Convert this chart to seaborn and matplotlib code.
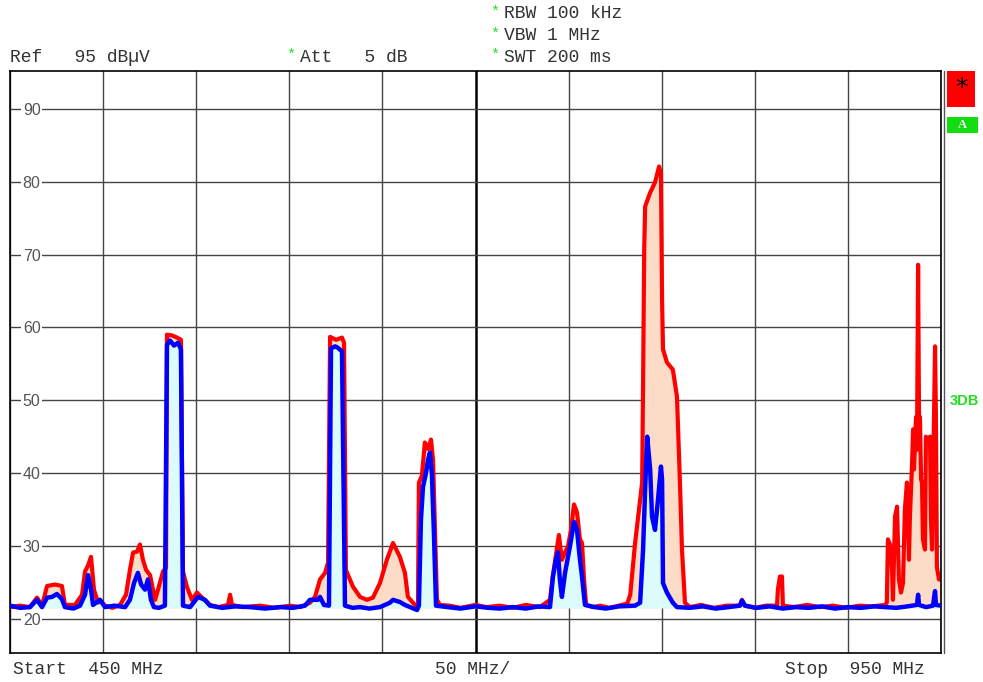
import pandas as pd
import seaborn as sns
import matplotlib.pyplot as plt
from matplotlib.patches import Rectangle
from matplotlib.lines import Line2D

# max hold trace (red), frequency in MHz, level in dBuV
red_freq = [450, 455.4, 460.7, 464.5, 467.2, 469.9, 474.2, 477.9, 479.5, 484.9,
            488.7, 490.3, 491.9, 493.5, 495.1, 497.3, 498.3, 501, 505, 509.1,
            512.3, 514.4, 516.1, 518.2, 519.8, 521.4, 523.1, 525.2, 527.9, 529.5,
            532.2, 533.8, 534.3, 537, 539.7, 541.8, 542.9, 545, 547.7, 550.4,
            553.1, 557.4, 562, 567.1, 568.2, 569.2, 575, 584.3, 592, 600.4,
            606, 611.1, 613.8, 616.5, 619.2, 620.8, 621.9, 625.1, 628.3, 629.4,
            630.4, 634.2, 638, 641.7, 644.9, 648.7, 652.4, 655.7, 659.4, 662.1,
            663.7, 667.5, 669.1, 669.6, 671.2, 672.8, 674.4, 676.1, 677.2, 678.3,
            679.3, 680.9, 686, 692, 700, 706, 713, 720, 727, 734.6,
            740, 741.6, 743.2, 744.8, 746.4, 748.1, 749.7, 751.3, 752.9, 754.5,
            756.1, 757.2, 758.3, 759.4, 763, 767, 772, 777, 781.5, 783.1,
            785.7, 788.4, 789.5, 790, 790.6, 791.1, 793.8, 796.4, 798.6, 799.6,
            800.2, 800.7, 802.8, 806, 808.2, 809.8, 810.9, 812.5, 815.2, 821,
            828, 835, 842, 843.1, 844.7, 850, 856, 861.9, 862.4, 863.5,
            864.6, 865.1, 871, 878, 885, 892, 899, 906.4, 913, 919.9,
            920.9, 921.5, 922.6, 923.7, 924.2, 925.3, 926.4, 927.4, 928.5, 929.6,
            930.6, 931.7, 932.8, 933.3, 934.4, 935, 935.5, 936.6, 937.1, 937.7,
            938.2, 938.7, 939.3, 939.8, 940.3, 941.4, 941.9, 943, 944.1, 944.6,
            945.2, 946.2, 946.8, 947.3, 947.8, 948.9, 950]
red_level = [21.6, 21.8, 21.6, 22.9, 21.8, 24.5, 24.7, 24.5, 21.9, 21.9,
             23.3, 26.5, 27.3, 28.5, 24.0, 22.2, 22.6, 21.8, 21.5, 21.9,
             23.3, 26.7, 29.1, 29.2, 30.2, 28.1, 26.7, 26.0, 22.6, 24.0,
             26.5, 27.0, 59.0, 58.9, 58.6, 58.3, 26.5, 24.4, 22.6, 23.6,
             22.9, 21.9, 21.6, 21.9, 23.3, 21.9, 21.6, 21.8, 21.5, 21.8,
             21.6, 22.2, 23.0, 25.4, 26.3, 27.7, 58.7, 58.3, 58.6, 57.9,
             26.7, 24.4, 23.0, 22.6, 22.9, 24.9, 28.1, 30.4, 28.5, 26.3,
             23.0, 21.9, 21.8, 38.7, 39.6, 44.2, 43.3, 44.6, 41.8, 31.8,
             22.6, 21.9, 21.8, 21.5, 21.9, 21.6, 21.8, 21.5, 21.9, 21.6,
             22.6, 26.0, 28.8, 31.5, 28.1, 29.1, 30.0, 32.2, 35.7, 34.6,
             30.9, 30.4, 25.4, 21.9, 21.6, 21.8, 21.5, 21.8, 22.1, 23.3,
             30.4, 36.3, 38.7, 52.4, 70.7, 76.6, 78.5, 79.9, 82.1, 81.0,
             63.8, 57.0, 55.2, 54.2, 50.5, 38.7, 29.5, 22.2, 21.6, 21.9,
             21.5, 21.8, 21.8, 22.6, 21.8, 21.5, 21.8, 21.8, 24.0, 25.8,
             25.8, 21.8, 21.6, 21.9, 21.6, 21.8, 21.5, 21.8, 21.7, 21.9,
             22.2, 30.9, 30.2, 26.7, 22.6, 34.0, 35.4, 25.4, 23.6, 24.9,
             35.0, 38.7, 28.1, 34.0, 40.9, 46.0, 40.5, 47.7, 43.2, 68.6,
             47.3, 47.7, 39.1, 38.7, 30.9, 29.5, 45.0, 44.6, 45.0, 33.6,
             29.5, 47.3, 57.4, 47.3, 27.1, 25.4, 25.4]

# clear/write trace (blue)
blue_freq = [450, 455.4, 460.7, 464.5, 467.2, 469.9, 472.6, 475.2, 477.9, 479.5,
             484, 487.6, 490.3, 491.9, 493.5, 494.6, 498.3, 501, 506, 511.8,
             514.4, 516.6, 518.7, 520.4, 522.5, 524.1, 525.7, 527.3, 530, 533.2,
             534.3, 535.9, 538.1, 540.2, 541.8, 542.9, 546.7, 551, 554.7, 557.4,
             564, 571, 578.9, 587, 595, 602, 608.4, 611.1, 615.4, 616.5,
             618.6, 621.3, 622.4, 624.6, 626.1, 628.3, 629.9, 634, 638, 643,
             648.7, 654, 655.7, 659.4, 662.1, 668.6, 669.6, 670.7, 671.8, 673.4,
             674.5, 675.5, 676.6, 677.7, 678.8, 685, 692, 700, 707, 713,
             720, 727, 734, 740, 741.6, 743.2, 744.3, 745.3, 746.4, 748.1,
             750.7, 752.9, 754.5, 756.1, 757.2, 758.8, 764, 770, 777, 785.7,
             788.4, 790, 791.1, 792.2, 793.8, 794.8, 796.4, 798, 799.6, 800.2,
             800.7, 802.8, 806, 808.2, 815, 822, 829, 836, 842, 843.1,
             844.7, 851, 858, 865, 872, 879, 886, 893, 900, 907,
             914, 919.9, 926, 932, 937.1, 937.7, 938.2, 942, 945.7, 946.8,
             947.3, 950]
blue_level = [21.8, 21.5, 21.6, 22.6, 21.6, 22.9, 23.0, 23.4, 22.7, 21.6,
              21.4, 21.8, 23.3, 26.0, 24.0, 21.9, 22.6, 21.6, 21.8, 21.6,
              22.6, 24.9, 26.3, 24.7, 24.0, 25.4, 22.6, 21.6, 21.5, 21.8,
              57.6, 58.2, 57.5, 57.9, 57.0, 21.8, 21.6, 23.0, 22.6, 21.8,
              21.5, 21.7, 21.6, 21.4, 21.6, 21.5, 21.8, 22.6, 22.6, 23.0,
              21.9, 21.8, 57.1, 57.4, 57.2, 56.7, 21.8, 21.5, 21.6, 21.4,
              21.6, 22.2, 22.6, 22.3, 21.9, 21.2, 21.8, 33.6, 38.1, 40.0,
              41.8, 42.8, 39.8, 31.5, 21.8, 21.6, 21.4, 21.7, 21.5, 21.4,
              21.6, 21.4, 21.7, 21.6, 25.8, 28.1, 29.1, 25.4, 23.0, 26.3,
              29.9, 33.3, 32.2, 28.1, 25.8, 21.9, 21.6, 21.4, 21.7, 21.8,
              22.2, 29.5, 37.7, 45.0, 40.5, 34.0, 32.2, 36.3, 40.9, 39.1,
              24.9, 23.6, 22.2, 21.6, 21.5, 21.7, 21.4, 21.6, 21.8, 22.5,
              21.8, 21.5, 21.7, 21.4, 21.6, 21.5, 21.7, 21.4, 21.6, 21.5,
              21.7, 21.6, 21.5, 21.7, 21.9, 23.3, 21.9, 21.6, 21.8, 23.8,
              21.9, 21.8]

y_ticks = [20, 30, 40, 50, 60, 70, 80, 90]
x_grid = [450, 500, 550, 600, 650, 700, 750, 800, 850, 900, 950]

red_df = pd.DataFrame({'freq': red_freq, 'level': red_level})
blue_df = pd.DataFrame({'freq': blue_freq, 'level': blue_level})

sns.set_style('white')
plt.rcParams['font.family'] = ['Liberation Mono', 'DejaVu Sans Mono']

fig = plt.figure(figsize=(9.83, 6.82), dpi=100)
ax = fig.add_axes([10 / 983, 1 - 653 / 682, 931 / 983, 582 / 682])

floor = 21.5
ax.fill_between(red_df['freq'], floor, red_df['level'], color='#fcdcc6', lw=0, zorder=1)
ax.fill_between(blue_df['freq'], floor, blue_df['level'], color='#dcfbfb', lw=0, zorder=1.1)
sns.lineplot(data=red_df, x='freq', y='level', color='#ff0000', linewidth=3.0,
             estimator=None, sort=False, ax=ax, zorder=2)
sns.lineplot(data=blue_df, x='freq', y='level', color='#0000ff', linewidth=3.2,
             estimator=None, sort=False, ax=ax, zorder=3)

ax.set_xlim(450, 950)
ax.set_ylim(15.3, 95.2)
ax.set_xticks(x_grid)
ax.set_yticks(y_ticks)
ax.set_xlabel('')
ax.set_ylabel('')
ax.grid(True, color='#444444', linewidth=1)
ax.get_xgridlines()[5].set_color('black')
ax.get_xgridlines()[5].set_linewidth(1.8)
ax.tick_params(axis='x', length=0, labelbottom=False)
ax.tick_params(axis='y', direction='in', length=8, width=1, color='#444444',
               pad=-22, labelsize=11.5, labelcolor='#555555')
for lbl in ax.get_yticklabels():
    lbl.set_fontfamily('Liberation Sans')
    lbl.set_bbox(dict(facecolor='white', edgecolor='none', pad=1))
for sp in ax.spines.values():
    sp.set_color('black')
    sp.set_linewidth(1.2)

# second frame line on the right
fig.add_artist(Line2D([944 / 983, 944 / 983], [1 - 653 / 682, 1 - 71 / 682],
                      color='#555555', lw=1, transform=fig.transFigure))

txt = '#333333'
green = '#22dd22'
fs = 13
fig.text(10 / 983, 1 - 57 / 682, 'Ref   95 dBµV', color=txt, fontsize=fs, va='center')
fig.text(286 / 983, 1 - 55 / 682, '*', color=green, fontsize=11, va='center')
fig.text(300 / 983, 1 - 57 / 682, 'Att   5 dB', color=txt, fontsize=fs, va='center')
for yy, s in [(14, 'RBW 100 kHz'), (36, 'VBW 1 MHz'), (57, 'SWT 200 ms')]:
    fig.text(490 / 983, 1 - (yy - 2) / 682, '*', color=green, fontsize=11, va='center')
    fig.text(504 / 983, 1 - yy / 682, s, color=txt, fontsize=fs, va='center')
fig.text(13 / 983, 1 - 670 / 682, 'Start  450 MHz', color=txt, fontsize=fs, va='center')
fig.text(435 / 983, 1 - 670 / 682, '50 MHz/', color=txt, fontsize=fs, va='center')
fig.text(785 / 983, 1 - 670 / 682, 'Stop  950 MHz', color=txt, fontsize=fs, va='center')

# status boxes on the right
fig.add_artist(Rectangle((947 / 983, 1 - 107 / 682), 28 / 983, 36 / 682,
                         facecolor='#ff0000', edgecolor='none', transform=fig.transFigure))
fig.text(961 / 983, 1 - 88 / 682, '*', color='black', fontsize=18, ha='center', va='center',
         fontfamily='DejaVu Sans')
fig.add_artist(Rectangle((947 / 983, 1 - 133 / 682), 31 / 983, 16 / 682,
                         facecolor='#11dd11', edgecolor='none', transform=fig.transFigure))
fig.text(962 / 983, 1 - 125 / 682, 'A', color='white', fontsize=9, ha='center', va='center',
         fontweight='bold', fontfamily='Liberation Serif')
fig.text(950 / 983, 1 - 401 / 682, '3DB', color=green, fontsize=10.5, va='center',
         fontweight='bold', fontfamily='Liberation Sans')

fig.savefig('out.png', dpi=100, facecolor='white')
